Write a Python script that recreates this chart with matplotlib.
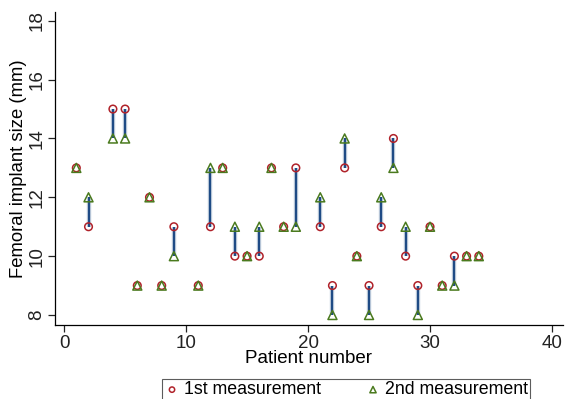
import numpy as np
import matplotlib.pyplot as plt

plt.rcParams['font.family'] = ['Liberation Sans', 'DejaVu Sans']

patients = [1, 2, 4, 5, 6, 7, 8, 9, 11, 12, 13, 14, 15, 16, 17, 18, 19,
            21, 22, 23, 24, 25, 26, 27, 28, 29, 30, 31, 32, 33, 34]
first = [13, 11, 15, 15, 9, 12, 9, 11, 9, 11, 13, 10, 10, 10, 13, 11, 13,
         11, 9, 13, 10, 9, 11, 14, 10, 9, 11, 9, 10, 10, 10]
second = [13, 12, 14, 14, 9, 12, 9, 10, 9, 13, 13, 11, 10, 11, 13, 11, 11,
          12, 8, 14, 10, 8, 12, 13, 11, 8, 11, 9, 9, 10, 10]

x_ticks = [0, 10, 20, 30, 40]
y_ticks = [8, 10, 12, 14, 16, 18]

fig = plt.figure(figsize=(5.65, 3.99), dpi=100)
ax = fig.add_axes([0.0973, 0.1855, 0.8991, 0.7845])

# light halo under the connecting lines, then the lines
ax.vlines(patients, first, second, color='#c8d3e0', lw=3.2, zorder=1)
ax.vlines(patients, first, second, color='#1f4b85', lw=1.6, zorder=2)

ax.scatter(patients, first, s=30, facecolors='none', edgecolors='#b0222a',
           linewidths=1.1, marker='o', zorder=3, label='1st measurement')
ax.scatter(patients, second, s=42, facecolors='none', edgecolors='#4a7a1e',
           linewidths=1.1, marker='^', zorder=4, label='2nd measurement')

ax.set_xlim(-0.75, 40.9)
ax.set_ylim(7.66, 18.3)
ax.set_xticks(x_ticks)
ax.set_yticks(y_ticks)
ax.tick_params(axis='both', direction='out', length=5, width=0.9,
               labelsize=13.5, colors='#222222', pad=2)
for lab in ax.get_yticklabels():
    lab.set_rotation(90)
    lab.set_va('center')
ax.spines['top'].set_visible(False)
ax.spines['right'].set_visible(False)
ax.spines['left'].set_linewidth(0.9)
ax.spines['bottom'].set_linewidth(0.9)

ax.set_xlabel('Patient number', fontsize=13.5, labelpad=-1)
ax.set_ylabel('Femoral implant size (mm)', fontsize=13.3, labelpad=1)

leg = fig.legend(loc='upper center', bbox_to_anchor=(0.612, 0.072), ncol=2,
                 fontsize=12.8, frameon=True, fancybox=False, edgecolor='#333333',
                 handletextpad=0.2, columnspacing=2.5, markerscale=0.7,
                 borderpad=0.12, handlelength=0.9)
leg.get_frame().set_linewidth(0.8)

fig.savefig('out.png', dpi=100)
